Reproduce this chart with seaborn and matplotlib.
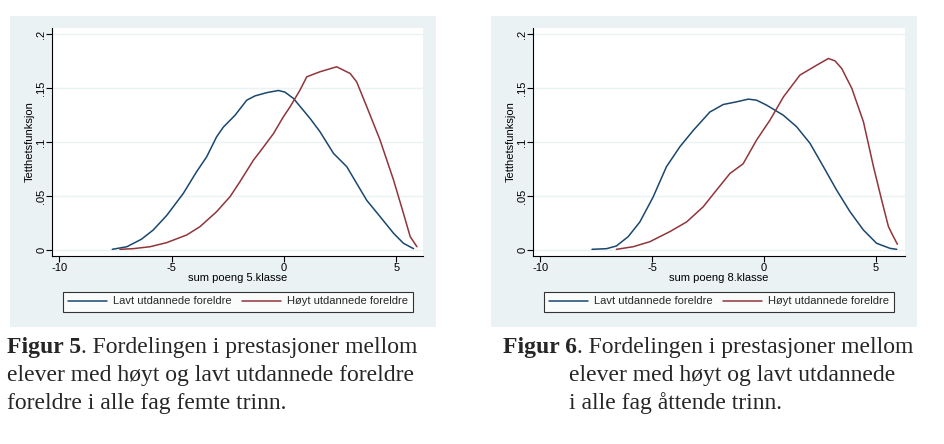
import numpy as np
import pandas as pd
import matplotlib
matplotlib.use("Agg")
import matplotlib.pyplot as plt
from matplotlib.patches import Rectangle
import seaborn as sns

# ---- data ----
# Figure 5 (5. klasse)
lavt5_x = [-7.64, -6.99, -6.34, -5.82, -5.22, -4.48, -3.89, -3.44, -3.0, -2.70, -2.18, -1.66, -1.29,
           -0.77, -0.25, 0.04, 0.42, 1.16, 1.60, 2.20, 2.79, 3.23, 3.68, 4.27, 4.87, 5.31, 5.76]
lavt5_y = [0.0006, 0.003, 0.010, 0.0185, 0.032, 0.0525, 0.0726, 0.0865, 0.105, 0.114, 0.125, 0.139, 0.143,
           0.146, 0.148, 0.1465, 0.1406, 0.122, 0.1097, 0.0896, 0.0773, 0.0618, 0.046, 0.031, 0.0155, 0.0062, 0.0012]
hoyt5_x = [-7.30, -6.71, -5.96, -5.22, -4.33, -3.74, -3.0, -2.40, -1.96, -1.36, -1.07, -0.47, -0.03,
           0.27, 0.71, 1.01, 1.60, 2.34, 2.94, 3.23, 3.68, 4.27, 4.87, 5.31, 5.61, 5.91]
hoyt5_y = [0.0006, 0.0012, 0.003, 0.0068, 0.0139, 0.0216, 0.0355, 0.0495, 0.0634, 0.0834, 0.0912, 0.108, 0.1236,
           0.1329, 0.1484, 0.1607, 0.1654, 0.170, 0.1638, 0.156, 0.1329, 0.102, 0.0649, 0.034, 0.0124, 0.003]

# Figure 6 (8. klasse)
lavt8_x = [-7.69, -7.04, -6.60, -6.07, -5.55, -4.96, -4.36, -3.76, -3.16, -2.42, -1.82, -1.22, -0.70,
           -0.33, 0.12, 0.87, 1.46, 2.06, 2.66, 3.25, 3.85, 4.45, 5.04, 5.64, 5.94]
lavt8_y = [0.0006, 0.0012, 0.0037, 0.0124, 0.026, 0.049, 0.0773, 0.0958, 0.111, 0.128, 0.135, 0.1375, 0.140,
           0.139, 0.1344, 0.125, 0.1144, 0.099, 0.0773, 0.0556, 0.0355, 0.0185, 0.0062, 0.0015, 0.0006]
hoyt8_x = [-6.60, -5.85, -5.10, -4.21, -3.46, -2.72, -2.12, -1.52, -0.93, -0.33, 0.27, 0.87, 1.61,
           2.36, 2.88, 3.18, 3.48, 3.93, 4.45, 4.90, 5.27, 5.57, 5.79, 5.97]
hoyt8_y = [0.0006, 0.003, 0.0077, 0.017, 0.026, 0.040, 0.0556, 0.071, 0.080, 0.102, 0.1205, 0.142, 0.1623,
           0.1715, 0.1777, 0.1755, 0.1684, 0.150, 0.119, 0.0773, 0.046, 0.0216, 0.0124, 0.0053]

series_names = ["Lavt utdannede foreldre", "Høyt utdannede foreldre"]
x_ticks = [-10, -5, 0, 5]
x_ticklabels = ["-10", "-5", "0", "5"]
y_ticks = [0, 0.05, 0.1, 0.15, 0.2]
y_ticklabels = ["0", ".05", ".1", ".15", ".2"]
x_labels = ["sum poeng 5.klasse", "sum poeng 8.klasse"]
y_label = "Tetthetsfunksjon"

captions = [
    ["Figur 5", ". Fordelingen i prestasjoner mellom",
     "elever med høyt og lavt utdannede foreldre",
     "foreldre i alle fag femte trinn."],
    ["Figur 6", ". Fordelingen i prestasjoner mellom",
     "elever med høyt og lavt utdannede",
     "i alle fag åttende trinn."],
]

# ---- styling ----
sns.set_theme(style="white")
plt.rcParams['font.family'] = ['Liberation Sans', 'DejaVu Sans']

W, H = 944, 444
fig = plt.figure(figsize=(W / 100, H / 100), dpi=100)
fig.patch.set_facecolor("white")

BG = "#EAF2F3"
BLUE = "#1A476F"
RED = "#90353B"
palette = {series_names[0]: BLUE, series_names[1]: RED}
CAP_FS = 17

def fx(px):
    return px / W

def fy(py):
    return 1 - py / H

panels = [
    dict(bg=(10, 16, 436, 327), ax=(52, 28, 423, 256), leg=(63, 291, 413, 312),
         xlim=(-10.32, 6.18), data=(lavt5_x, lavt5_y, hoyt5_x, hoyt5_y),
         cap_x=7, cap_indent=7),
    dict(bg=(491, 16, 917, 327), ax=(533, 28, 905, 256), leg=(544, 291, 894, 312),
         xlim=(-10.33, 6.31), data=(lavt8_x, lavt8_y, hoyt8_x, hoyt8_y),
         cap_x=503, cap_indent=569),
]

for i, p in enumerate(panels):
    x0, y0, x1, y1 = p["bg"]
    fig.patches.append(Rectangle((fx(x0), fy(y1)), fx(x1 - x0), (y1 - y0) / H,
                                 transform=fig.transFigure, facecolor=BG,
                                 edgecolor="none", zorder=-5))
    ax0, ay0, ax1, ay1 = p["ax"]
    ax = fig.add_axes([fx(ax0), fy(ay1), fx(ax1 - ax0), (ay1 - ay0) / H])
    ax.set_zorder(1)
    ax.set_facecolor("white")

    lx, ly, hx, hy = p["data"]
    df = pd.concat([
        pd.DataFrame({"x": lx, "y": ly, "gruppe": series_names[0]}),
        pd.DataFrame({"x": hx, "y": hy, "gruppe": series_names[1]}),
    ], ignore_index=True)
    sns.lineplot(data=df, x="x", y="y", hue="gruppe", palette=palette,
                 sort=False, estimator=None, linewidth=1.1, ax=ax)

    ax.set_xlim(*p["xlim"])
    ax.set_ylim(-0.0056, 0.206)
    ax.set_xticks(x_ticks)
    ax.set_xticklabels(x_ticklabels)
    ax.set_yticks(y_ticks)
    ax.set_yticklabels(y_ticklabels, rotation=90, va="center")
    for t in y_ticks:
        ax.axhline(t, color=BG, linewidth=1.0, zorder=0)
    for s in ["top", "right"]:
        ax.spines[s].set_visible(False)
    for s in ["left", "bottom"]:
        ax.spines[s].set_color("black")
        ax.spines[s].set_linewidth(0.8)
    ax.tick_params(axis="both", which="both", direction="out", length=4, width=0.8,
                   color="black", labelsize=8, labelcolor="black",
                   left=True, bottom=True)
    ax.tick_params(axis="x", pad=1)
    ax.tick_params(axis="y", pad=0)
    ax.set_xlabel(x_labels[i], fontsize=8, labelpad=0, color="black")
    ax.set_ylabel(y_label, fontsize=8, labelpad=1, color="black")

    # legend
    handles, labels = ax.get_legend_handles_labels()
    ax.get_legend().remove()
    gx0, gy0, gx1, gy1 = p["leg"]
    leg = ax.legend(handles, labels, ncol=2, loc="center",
                    bbox_to_anchor=(fx((gx0 + gx1) / 2), fy((gy0 + gy1) / 2)),
                    bbox_transform=fig.transFigure, fontsize=8, frameon=True,
                    fancybox=False, borderpad=0.45, handlelength=3.5,
                    handletextpad=0.55, columnspacing=0.9, borderaxespad=0)
    leg.get_frame().set_edgecolor("black")
    leg.get_frame().set_linewidth(0.8)
    leg.get_frame().set_facecolor("white")

    # caption
    cap = captions[i]
    t1 = fig.text(fx(p["cap_x"]), fy(353), cap[0], fontsize=CAP_FS,
                  family="Liberation Serif", fontweight="bold", va="baseline")
    plt.annotate(cap[1], xy=(1, 0), xycoords=t1, fontsize=CAP_FS,
                 family="Liberation Serif", va="bottom", ha="left",
                 annotation_clip=False)
    fig.text(fx(p["cap_indent"]), fy(381), cap[2], fontsize=CAP_FS,
             family="Liberation Serif", va="baseline")
    fig.text(fx(p["cap_indent"]), fy(409), cap[3], fontsize=CAP_FS,
             family="Liberation Serif", va="baseline")

fig.savefig("out.png", dpi=100, facecolor="white")
